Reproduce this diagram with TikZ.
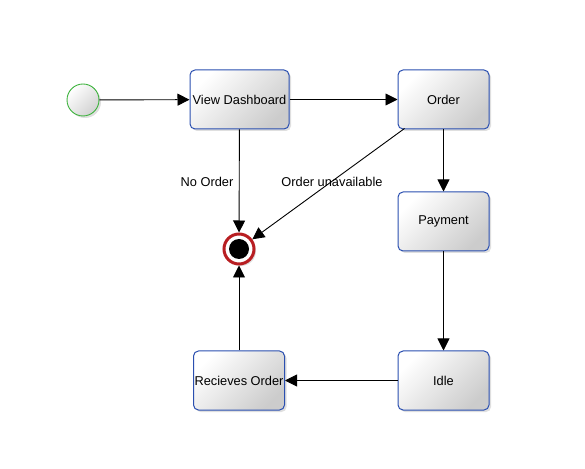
\documentclass[tikz,border=0pt]{standalone}
\usepackage{fontspec}
\setmainfont{Liberation Sans}
\usetikzlibrary{arrows.meta,shadows}
\definecolor{boxblue}{HTML}{2A4FB0}
\definecolor{startgreen}{HTML}{3DB33D}
\definecolor{endred}{HTML}{B81E22}
\begin{document}
\begin{tikzpicture}[x=1pt,y=1pt,
  font=\fontsize{12.8}{14}\selectfont,
  shad/.style={drop shadow={opacity=0.25,shadow xshift=2pt,shadow yshift=-2pt}},
  statebox/.style={draw=boxblue,line width=1pt,rounded corners=5pt,
    top color=white,bottom color=black!20,shading angle=45,
    minimum height=59pt,inner sep=1pt,shad},
  arr/.style={line width=0.9pt,-{Triangle[length=12pt,width=12pt]}},
  lbl/.style={inner sep=0pt}]
\useasboundingbox (0,0) rectangle (585,468);
\node[circle,draw=startgreen,line width=0.9pt,minimum size=32pt,inner sep=0pt,
  top color=white,bottom color=black!18,shading angle=45,shad] (start) at (83,368) {};
\node[statebox,minimum width=99pt] (vd) at (239.5,368.5) {View Dashboard};
\node[statebox,minimum width=91pt] (order) at (443.5,368.5) {Order};
\node[statebox,minimum width=91pt] (pay) at (443.5,246.5) {Payment};
\node[statebox,minimum width=91pt] (idle) at (443.5,87.5) {Idle};
\node[statebox,minimum width=91pt] (rec) at (239,87.5) {Recieves Order};
\node[circle,draw=endred,line width=3pt,fill=white,minimum size=30pt,inner sep=0pt,shad] (end) at (239,219) {};
\node[circle,fill=black,minimum size=20pt,inner sep=0pt] (endin) at (end.center) {};
\coordinate (ordsw) at ([xshift=7pt,yshift=1pt]order.south west);
\draw[arr] (start) -- (vd);
\draw[arr] (vd) -- (order);
\draw[arr] (vd) -- (end);
\draw[arr] (ordsw) -- (end);
\draw[arr] (order) -- (pay);
\draw[arr] (pay) -- (idle);
\draw[arr] (idle) -- (rec);
\draw[arr] (rec) -- (end);
\node[lbl] (l1) at (207,286) {No Order};
\node[lbl] (l2) at (332,286) {Order unavailable};
\end{tikzpicture}
\end{document}
